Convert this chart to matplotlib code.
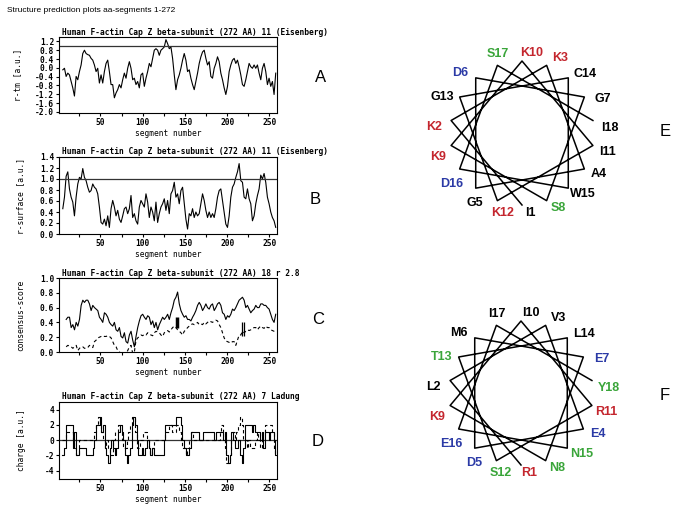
import numpy as np
import matplotlib.pyplot as plt
from matplotlib.ticker import MultipleLocator, FormatStrFormatter

plt.rcParams['axes.unicode_minus'] = False
plt.rcParams['font.family'] = 'DejaVu Sans Mono'
plt.rcParams['font.weight'] = 'bold'
plt.rcParams['font.size'] = 5.7

# ---- data ----
r_tm = [-0.09, -0.02, -0.39, -0.24, -0.32, -0.62, -0.91, -1.28, -0.39, -0.54,
        -0.17, 0.13, 0.65, 0.80, 0.65, 0.60, 0.57, 0.43, 0.35, 0.13,
        -0.17, -0.02, -0.69, -0.32, -0.69, -0.17, 0.20, 0.35, -0.17, -0.76,
        -0.76, -1.36, -1.14, -0.99, -0.76, -0.91, -0.54, -0.24, -0.47, -0.02,
        0.28, -0.02, -0.54, -0.47, -0.76, -0.62, -0.91, -0.32, -0.24, -0.84,
        -0.47, -0.17, 0.20, 0.05, 0.43, 0.80, 0.87, 0.80, 0.57, 0.80,
        0.87, 0.95, 1.28, 1.10, 0.87, 0.95, 0.43, -0.32, -0.99, -0.54,
        -0.32, -0.02, 0.35, 0.65, 0.35, -0.17, -0.09, -0.47, -0.76, -0.99,
        -0.62, -0.24, 0.20, 0.50, 0.72, 0.80, 0.43, 0.13, 0.28, -0.39,
        -0.47, -0.02, 0.20, 0.50, 0.28, -0.24, -0.54, -0.91, -1.21, -0.84,
        -0.17, 0.13, 0.35, 0.43, 0.20, 0.35, 0.05, -0.32, -0.76, -0.84,
        -0.54, -0.17, 0.20, 0.05, -0.02, 0.13, -0.02, 0.13, -0.24, -0.54,
        -0.02, 0.20, -0.17, -0.76, -0.47, -0.84, -0.62, -1.21, -0.24]

r_surface = [0.46, 0.67, 1.05, 1.13, 0.82, 0.67, 0.58, 0.33, 0.67, 0.91,
             1.03, 1.00, 1.19, 1.03, 0.97, 0.85, 0.76, 0.79, 0.91, 0.85,
             0.82, 0.73, 0.49, 0.21, 0.18, 0.27, 0.15, 0.33, 0.12, 0.46,
             0.61, 0.49, 0.33, 0.43, 0.27, 0.21, 0.33, 0.46, 0.49, 0.37,
             0.46, 0.70, 0.30, 0.37, 0.24, 0.18, 0.49, 0.61, 0.55, 0.49,
             0.73, 0.58, 0.30, 0.49, 0.40, 0.24, 0.58, 0.21, 0.37, 0.49,
             0.55, 0.64, 0.43, 0.61, 0.37, 0.73, 0.79, 0.94, 0.67, 0.73,
             0.55, 0.79, 0.85, 0.55, 0.27, 0.09, 0.37, 0.33, 0.46, 0.30,
             0.40, 0.33, 0.37, 0.55, 0.73, 0.61, 0.43, 0.30, 0.40, 0.30,
             0.37, 0.30, 0.46, 0.67, 0.79, 0.82, 0.61, 0.40, 0.18, 0.12,
             0.33, 0.67, 0.85, 0.91, 1.03, 1.13, 1.28, 0.97, 0.94, 0.67,
             0.64, 0.82, 0.64, 0.55, 0.24, 0.33, 0.55, 0.70, 0.82, 1.07,
             1.00, 1.10, 0.94, 0.67, 0.55, 0.40, 0.30, 0.24, 0.12]

consensus = [0.44, 0.47, 0.47, 0.33, 0.37, 0.30, 0.40, 0.35, 0.44, 0.63,
             0.70, 0.67, 0.70, 0.70, 0.65, 0.56, 0.63, 0.60, 0.58, 0.56,
             0.47, 0.44, 0.40, 0.53, 0.51, 0.47, 0.40, 0.37, 0.35, 0.40,
             0.30, 0.28, 0.33, 0.21, 0.19, 0.26, 0.14, 0.12, 0.23, 0.28,
             0.16, 0.07, 0.21, 0.33, 0.42, 0.49, 0.51, 0.47, 0.44, 0.49,
             0.47, 0.37, 0.42, 0.33, 0.40, 0.30, 0.37, 0.42, 0.47, 0.44,
             0.47, 0.51, 0.44, 0.53, 0.60, 0.70, 0.74, 0.81, 0.65, 0.56,
             0.51, 0.47, 0.49, 0.44, 0.44, 0.42, 0.47, 0.51, 0.56, 0.63,
             0.67, 0.63, 0.56, 0.60, 0.65, 0.60, 0.58, 0.63, 0.65, 0.56,
             0.60, 0.65, 0.67, 0.63, 0.53, 0.51, 0.44, 0.49, 0.47, 0.51,
             0.58, 0.56, 0.60, 0.65, 0.70, 0.72, 0.74, 0.70, 0.60, 0.63,
             0.58, 0.53, 0.56, 0.58, 0.63, 0.60, 0.60, 0.65, 0.65, 0.63,
             0.63, 0.60, 0.58, 0.51, 0.44, 0.40, 0.51]

consensus_ref = [0.07, 0.09, 0.08, 0.07, 0.05, 0.07, 0.09, 0.02, 0.05, 0.07,
                 0.07, 0.05, 0.05, 0.06, 0.09, 0.07, 0.06, 0.14, 0.16, 0.19,
                 0.20, 0.21, 0.22, 0.21, 0.21, 0.22, 0.21, 0.19, 0.14, 0.09,
                 0.07, 0.02, 0.00, -0.02, -0.02, -0.05, -0.02, 0.02, 0.07, 0.09,
                 -0.02, 0.00, 0.16, 0.19, 0.21, 0.23, 0.22, 0.24, 0.23, 0.26,
                 0.24, 0.23, 0.22, 0.26, 0.28, 0.27, 0.26, 0.23, 0.21, 0.26,
                 0.28, 0.29, 0.27, 0.30, 0.33, 0.35, 0.33, 0.30, 0.28, 0.26,
                 0.23, 0.28, 0.30, 0.33, 0.35, 0.37, 0.38, 0.37, 0.38, 0.40,
                 0.37, 0.38, 0.37, 0.40, 0.38, 0.40, 0.42, 0.41, 0.40, 0.42,
                 0.43, 0.42, 0.37, 0.33, 0.26, 0.19, 0.15, 0.14, 0.13, 0.12,
                 0.14, 0.14, 0.09, 0.16, 0.23, 0.23, 0.28, 0.26, 0.28, 0.30,
                 0.29, 0.30, 0.32, 0.33, 0.33, 0.30, 0.33, 0.35, 0.33, 0.32,
                 0.35, 0.33, 0.33, 0.30, 0.29, 0.28, 0.27]

charge = [-2, -2, -1, 2, 2, 2, 2, -1, 1, -2,
          -2, -1, -1, -1, -1, -2, -2, -2, -2, -1,
          0, 2, 2, 3, 1, 2, -1, -2, -3, -1,
          0, -1, -2, -1, 1, 2, 1, 0, -2, -3,
          -2, -1, 2, 3, 2, 0, -2, -2, -1, -2,
          -1, 0, -1, -2, -1, -2, -2, -2, -2, -2,
          -2, 0, 2, 2, 2, 2, 2, 2, 3, 3,
          3, 2, 0, -1, -2, -2, -1, 1, 1, 1,
          1, 1, 0, 0, 1, 1, 1, 1, 1, 1,
          1, 0, 1, 1, 1, 1, 0, 1, -2, -3,
          -2, 1, 0, -1, -1, 0, -2, -3, -1, 2,
          2, 2, 2, 1, 2, 1, 1, 1, 0, 1,
          -1, 1, 1, 0, 1, 1, 0, -2]

charge_ref = [0, 0, 0, 1, 1, 1, 1, 0, -1, -2,
              -2, 0, 0, 0, 0, 0, 0, 0, 0, 0,
              1, 2, 3, 2, 1, 0, -1, 0, -1, -2,
              -2, 0, 1, 1, 2, 1, 0, -1, -1, 0,
              1, 2, 3, 3, 1, -1, -1, 0, 0, 1,
              1, 0, -1, -2, -1, 0, 0, 0, 0, 0,
              0, 0, 1, 1, 2, 2, 1, 1, 2, 2,
              1, 0, -1, -1, -2, -1, 0, 1, 0, 0,
              0, 0, 0, 0, 0, 0, 0, 0, 0, 0,
              0, 0, 0, 0, 1, 2, 1, -1, -3, -3,
              -2, 0, 1, 0, 1, 2, 3, 2, 0, 0,
              -1, 0, -1, -1, -1, 0, 1, 0, -1, 1,
              1, 2, 2, 2, 2, 1, -1, -2]

seg_ab = np.linspace(5.5, 257.5, len(r_tm))
seg_c = np.linspace(9.5, 257.5, len(consensus))
seg_d = 4 + 2 * np.arange(len(charge))

yticks_a = [-2.0, -1.6, -1.2, -0.8, -0.4, 0.0, 0.4, 0.8, 1.2]
yticks_b = [0.0, 0.2, 0.4, 0.6, 0.8, 1.0, 1.2, 1.4]
yticks_c = [0.0, 0.2, 0.4, 0.6, 0.8, 1.0]
yticks_d = [-4, -2, 0, 2, 4]

# helical wheels (residue 1..18)
seq_e = "IKKAGDGSKKIKGCWDSI"
seq_f = "RLVEDMENKIRSTLNEIY"
aa_colors = {'K': '#c4262e', 'R': '#c4262e', 'D': '#2b3aa6', 'E': '#2b3aa6',
             'S': '#3aa53a', 'T': '#3aa53a', 'N': '#3aa53a', 'Y': '#3aa53a'}

W, H = 685, 518
fig = plt.figure(figsize=(W / 100, H / 100), dpi=100)


def px_box(left, top, right, bottom):
    return [left / W, 1 - bottom / H, (right - left) / W, (bottom - top) / H]


def setup(ax, title, ylabel, ylim, yticks, fmt, ylab_x):
    ax.set_xlim(1, 259)
    ax.set_ylim(*ylim)
    ax.set_yticks(yticks)
    ax.yaxis.set_major_formatter(FormatStrFormatter(fmt))
    ax.xaxis.set_major_locator(MultipleLocator(50))
    ax.xaxis.set_minor_locator(MultipleLocator(25))
    ax.tick_params(which='both', direction='out', length=2, width=0.8, pad=1.5, labelsize=5.7)
    for s in ax.spines.values():
        s.set_linewidth(0.8)
    ax.set_xlabel('segment number', labelpad=1.5)
    ax.set_ylabel(ylabel)
    ax.yaxis.set_label_coords(ylab_x, 0.5)
    ax.text(0.015, 1.065, title, transform=ax.transAxes, ha='left', va='center')


ttl = 'Human F-actin Cap Z beta-subunit (272 AA) '

# A
ax = fig.add_axes(px_box(59, 37, 277, 113))
ax.plot(seg_ab, r_tm, color='black', lw=0.8)
ax.axhline(1.0, color='#333333', lw=0.9)
setup(ax, ttl + '11 (Eisenberg)', 'r-tm [a.u.]', (-2.05, 1.4), yticks_a, '%.1f', -0.17)

# B
ax = fig.add_axes(px_box(59, 157, 277, 234))
ax.plot(seg_ab, r_surface, color='black', lw=0.8)
ax.axhline(1.0, color='#333333', lw=0.9)
setup(ax, ttl + '11 (Eisenberg)', 'r-surface [a.u.]', (0, 1.4), yticks_b, '%.1f', -0.156)

# C
ax = fig.add_axes(px_box(59, 278, 277, 352))
ax.plot(seg_c, consensus, color='black', lw=0.8)
ax.plot(seg_c, consensus_ref, color='black', lw=0.8, ls=(0, (3, 2.5)))
ax.vlines(141, 0.33, 0.47, color='black', lw=2.5)
ax.vlines([218, 220], 0.22, 0.40, color='black', lw=0.9)
setup(ax, ttl + '18 r 2.8', 'consensus-score', (0, 1.0), yticks_c, '%.1f', -0.156)

# D
ax = fig.add_axes(px_box(59, 402, 277, 479))
ax.axhline(0, color='#333333', lw=0.9)
ax.plot(seg_d, charge, color='black', lw=0.8, drawstyle='steps-mid')
ax.plot(seg_d, charge_ref, color='black', lw=0.8, ls=(0, (3, 2.5)), drawstyle='steps-mid')
setup(ax, ttl + '7 Ladung', 'charge [a.u.]', (-5.1, 5.0), yticks_d, '%d', -0.151)

# helical wheels
R = 72


def label_shift(a):
    # labels sit a little off their spoke, pushed away from the vertical
    if 120 <= a <= 300:
        return 6
    if 300 < a <= 340:
        return (340 - a) / 6
    if a > 340:
        return -2.5
    if a < 100:
        return -7
    return -3


def wheel(cx, cy, seq):
    ax = fig.add_axes(px_box(cx - 110, cy - 110, cx + 110, cy + 110))
    ax.set_xlim(-110, 110)
    ax.set_ylim(-110, 110)
    ax.axis('off')
    ang = 270 - 100 * np.arange(len(seq))
    rad = np.deg2rad(ang)
    ax.plot(R * np.cos(rad), R * np.sin(rad), color='black', lw=1.1)
    for i, aa in enumerate(seq):
        a = ang[i] % 360
        la = np.deg2rad(a + label_shift(a))
        r = 80 + 8 * abs(np.cos(la))
        ax.text(r * np.cos(la), r * np.sin(la), f'{aa}{i + 1}',
                color=aa_colors.get(aa, 'black'), family='Liberation Sans',
                weight='bold', fontsize=9, ha='center', va='center')


wheel(522, 133, seq_e)
wheel(521, 393, seq_f)

fig.text(6.7 / W, 1 - 10 / H, 'Structure prediction plots aa-segments 1-272',
         family='Liberation Sans', weight='normal', fontsize=6.0, va='center')

for letter, (x, y) in zip('ABCDEF', [(321, 77.5), (315.5, 200), (318, 320),
                                     (317.5, 441.7), (665, 131), (665, 396)]):
    fig.text(x / W, 1 - y / H, letter, family='Liberation Sans', weight='normal',
             fontsize=12, ha='center', va='center')

fig.savefig('out.png', dpi=100)
